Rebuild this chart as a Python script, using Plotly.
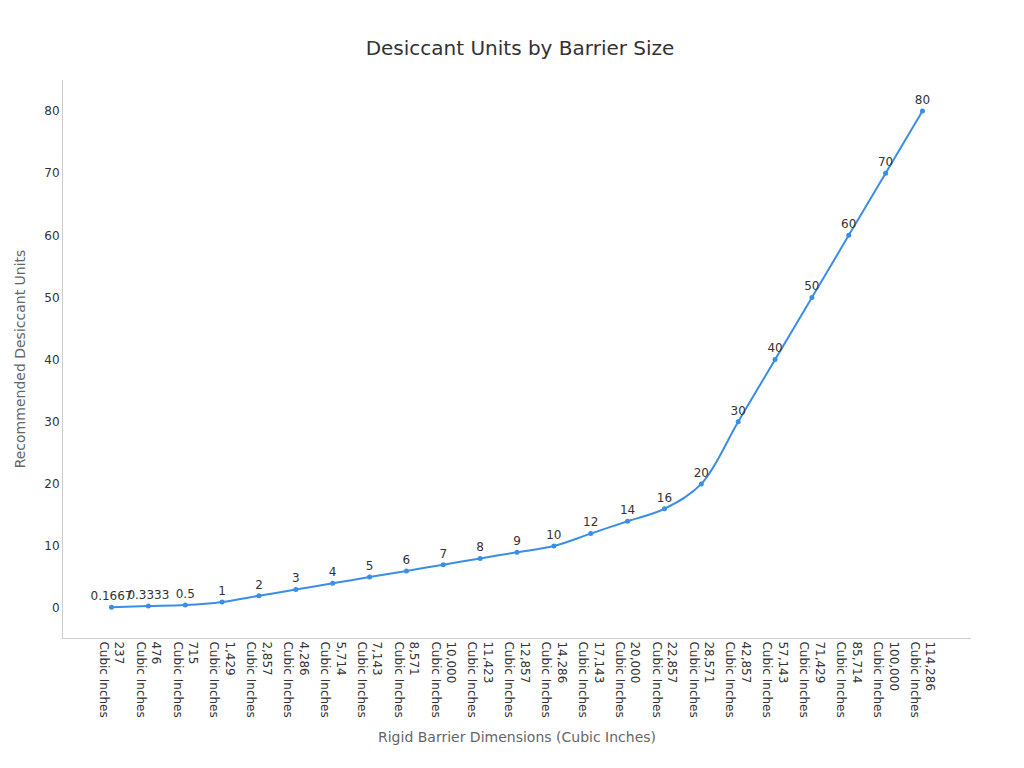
import plotly.graph_objects as go

sizes = ["237", "476", "715", "1,429", "2,857", "4,286", "5,714", "7,143", "8,571",
         "10,000", "11,423", "12,857", "14,286", "17,143", "20,000", "22,857",
         "28,571", "42,857", "57,143", "71,429", "85,714", "100,000", "114,286"]
units = [0.1667, 0.3333, 0.5, 1, 2, 3, 4, 5, 6, 7, 8, 9, 10, 12, 14, 16, 20,
         30, 40, 50, 60, 70, 80]

labels = [s + "<br>Cubic Inches" for s in sizes]

fig = go.Figure()
fig.add_trace(go.Scatter(
    x=labels, y=units,
    mode="lines+markers+text",
    line=dict(color="#3a8ee6", width=2, shape="spline"),
    marker=dict(size=5, color="#3a8ee6"),
    text=[str(v) for v in units],
    textposition="top center",
    textfont=dict(size=12, color="#333"),
    hoverinfo="x+y",
))

fig.update_layout(
    width=1024, height=768,
    title=dict(text="Desiccant Units by Barrier Size", x=0.5, y=0.957,
               font=dict(size=20, color="#333")),
    font=dict(family="DejaVu Sans", color="#333"),
    plot_bgcolor="white", paper_bgcolor="white",
    margin=dict(l=53, r=61, t=72, b=138),
    showlegend=False,
    xaxis=dict(title=dict(text="Rigid Barrier Dimensions (Cubic Inches)",
                          font=dict(size=14, color="#666")),
               tickangle=90, showgrid=False, showline=True, linecolor="#ccc",
               tickfont=dict(size=12, color="#333"), ticks=""),
    yaxis=dict(title=dict(text="Recommended Desiccant Units",
                          font=dict(size=14, color="#666")),
               range=[-4.8, 85], showgrid=False, zeroline=False, showline=True,
               linecolor="#ccc", tickfont=dict(size=12, color="#333"),
               dtick=10),
)

fig.write_html("out.html")
